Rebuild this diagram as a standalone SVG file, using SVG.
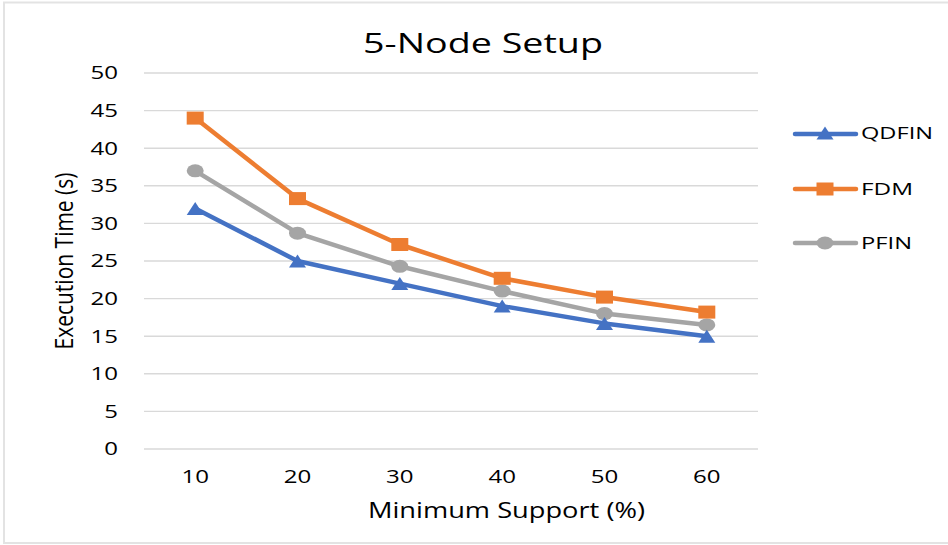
<svg xmlns="http://www.w3.org/2000/svg" width="948" height="545" viewBox="0 0 948 545">
<style>
  text { font-family: "Open Sans", "Liberation Sans", sans-serif; fill: #000000; }
  .tick { font-size: 17.5px; }
  .ytick { text-anchor: end; }
  .xtick { text-anchor: middle; }
  .grid { stroke: #d9d9d9; stroke-width: 1.4; }
  .series { fill: none; stroke-width: 4.5; stroke-linejoin: round; stroke-linecap: round; }
  .q { stroke: #4472c4; }
  .f { stroke: #ed7d31; }
  .p { stroke: #a5a5a5; }
  .qm { fill: #4472c4; }
  .fm { fill: #ed7d31; }
  .pm { fill: #a5a5a5; }
  .leg { font-size: 17px; }
</style>
<defs>
  <polygon id="tri" points="0,-6.5 8.5,6.5 -8.5,6.5"/>
  <rect id="sq" x="-8.5" y="-6.5" width="17" height="13"/>
  <ellipse id="cir" cx="0" cy="0" rx="8.5" ry="6.5"/>
</defs>
<rect x="0" y="0" width="948" height="545" fill="#ffffff"/>
<rect x="4" y="2.5" width="946" height="540.5" fill="none" stroke="#e3e3e3" stroke-width="2"/>

<g id="title">
  <text x="363" y="53" font-size="28" textLength="240" lengthAdjust="spacingAndGlyphs">5-Node Setup</text>
</g>

<g id="gridlines">
  <line class="grid" x1="144" y1="73" x2="758" y2="73"/>
  <line class="grid" x1="144" y1="110.6" x2="758" y2="110.6"/>
  <line class="grid" x1="144" y1="148.2" x2="758" y2="148.2"/>
  <line class="grid" x1="144" y1="185.8" x2="758" y2="185.8"/>
  <line class="grid" x1="144" y1="223.4" x2="758" y2="223.4"/>
  <line class="grid" x1="144" y1="261" x2="758" y2="261"/>
  <line class="grid" x1="144" y1="298.6" x2="758" y2="298.6"/>
  <line class="grid" x1="144" y1="336.2" x2="758" y2="336.2"/>
  <line class="grid" x1="144" y1="373.8" x2="758" y2="373.8"/>
  <line class="grid" x1="144" y1="411.4" x2="758" y2="411.4"/>
  <line class="grid" x1="144" y1="449" x2="758" y2="449"/>
</g>

<g id="y-axis">
  <text class="tick ytick" x="118" y="79.3" textLength="27.5" lengthAdjust="spacingAndGlyphs">50</text>
  <text class="tick ytick" x="118" y="116.9" textLength="27.5" lengthAdjust="spacingAndGlyphs">45</text>
  <text class="tick ytick" x="118" y="154.5" textLength="27.5" lengthAdjust="spacingAndGlyphs">40</text>
  <text class="tick ytick" x="118" y="192.1" textLength="27.5" lengthAdjust="spacingAndGlyphs">35</text>
  <text class="tick ytick" x="118" y="229.7" textLength="27.5" lengthAdjust="spacingAndGlyphs">30</text>
  <text class="tick ytick" x="118" y="267.3" textLength="27.5" lengthAdjust="spacingAndGlyphs">25</text>
  <text class="tick ytick" x="118" y="304.9" textLength="27.5" lengthAdjust="spacingAndGlyphs">20</text>
  <text class="tick ytick" x="118" y="342.5" textLength="27.5" lengthAdjust="spacingAndGlyphs">15</text>
  <text class="tick ytick" x="118" y="380.1" textLength="27.5" lengthAdjust="spacingAndGlyphs">10</text>
  <text class="tick ytick" x="118" y="417.7" textLength="13.7" lengthAdjust="spacingAndGlyphs">5</text>
  <text class="tick ytick" x="118" y="455.3" textLength="13.7" lengthAdjust="spacingAndGlyphs">0</text>
  <text transform="translate(73,261) scale(1.37,1) rotate(-90)" x="0" y="0" font-size="19" text-anchor="middle" textLength="177" lengthAdjust="spacingAndGlyphs">Execution Time (s)</text>
</g>

<g id="x-axis">
  <text class="tick xtick" x="195.2" y="483" textLength="27.5" lengthAdjust="spacingAndGlyphs">10</text>
  <text class="tick xtick" x="297.5" y="483" textLength="27.5" lengthAdjust="spacingAndGlyphs">20</text>
  <text class="tick xtick" x="399.8" y="483" textLength="27.5" lengthAdjust="spacingAndGlyphs">30</text>
  <text class="tick xtick" x="502.2" y="483" textLength="27.5" lengthAdjust="spacingAndGlyphs">40</text>
  <text class="tick xtick" x="604.5" y="483" textLength="27.5" lengthAdjust="spacingAndGlyphs">50</text>
  <text class="tick xtick" x="706.8" y="483" textLength="27.5" lengthAdjust="spacingAndGlyphs">60</text>
  <text x="506.5" y="518" font-size="21" text-anchor="middle" textLength="277" lengthAdjust="spacingAndGlyphs">Minimum Support (%)</text>
</g>

<g id="series-PFIN">
  <polyline class="series p" points="195.2,170.8 297.5,233.2 399.8,266.3 502.2,291.1 604.5,313.6 706.8,324.9"/>
  <use href="#cir" class="pm" x="195.2" y="170.8"/>
  <use href="#cir" class="pm" x="297.5" y="233.2"/>
  <use href="#cir" class="pm" x="399.8" y="266.3"/>
  <use href="#cir" class="pm" x="502.2" y="291.1"/>
  <use href="#cir" class="pm" x="604.5" y="313.6"/>
  <use href="#cir" class="pm" x="706.8" y="324.9"/>
</g>

<g id="series-FDM">
  <polyline class="series f" points="195.2,118.1 297.5,198.6 399.8,244.5 502.2,278.3 604.5,297.1 706.8,312.1"/>
  <use href="#sq" class="fm" x="195.2" y="118.1"/>
  <use href="#sq" class="fm" x="297.5" y="198.6"/>
  <use href="#sq" class="fm" x="399.8" y="244.5"/>
  <use href="#sq" class="fm" x="502.2" y="278.3"/>
  <use href="#sq" class="fm" x="604.5" y="297.1"/>
  <use href="#sq" class="fm" x="706.8" y="312.1"/>
</g>

<g id="series-QDFIN">
  <polyline class="series q" points="195.2,208.4 297.5,261 399.8,283.6 502.2,306.1 604.5,323.4 706.8,336.2"/>
  <use href="#tri" class="qm" x="195.2" y="208.4"/>
  <use href="#tri" class="qm" x="297.5" y="261"/>
  <use href="#tri" class="qm" x="399.8" y="283.6"/>
  <use href="#tri" class="qm" x="502.2" y="306.1"/>
  <use href="#tri" class="qm" x="604.5" y="323.4"/>
  <use href="#tri" class="qm" x="706.8" y="336.2"/>
</g>

<g id="legend">
  <g id="legend-QDFIN">
    <line class="series q" x1="795" y1="134" x2="856" y2="134" stroke-linecap="butt"/>
    <use href="#tri" class="qm" x="825" y="133"/>
    <text class="leg" x="861" y="139" textLength="72" lengthAdjust="spacingAndGlyphs">QDFIN</text>
  </g>
  <g id="legend-FDM">
    <line class="series f" x1="795" y1="189" x2="856" y2="189" stroke-linecap="butt"/>
    <use href="#sq" class="fm" x="825" y="189"/>
    <text class="leg" x="861" y="195" textLength="52" lengthAdjust="spacingAndGlyphs">FDM</text>
  </g>
  <g id="legend-PFIN">
    <line class="series p" x1="795" y1="243" x2="856" y2="243" stroke-linecap="butt"/>
    <use href="#cir" class="pm" x="825" y="243"/>
    <text class="leg" x="861" y="249" textLength="51" lengthAdjust="spacingAndGlyphs">PFIN</text>
  </g>
</g>
</svg>
